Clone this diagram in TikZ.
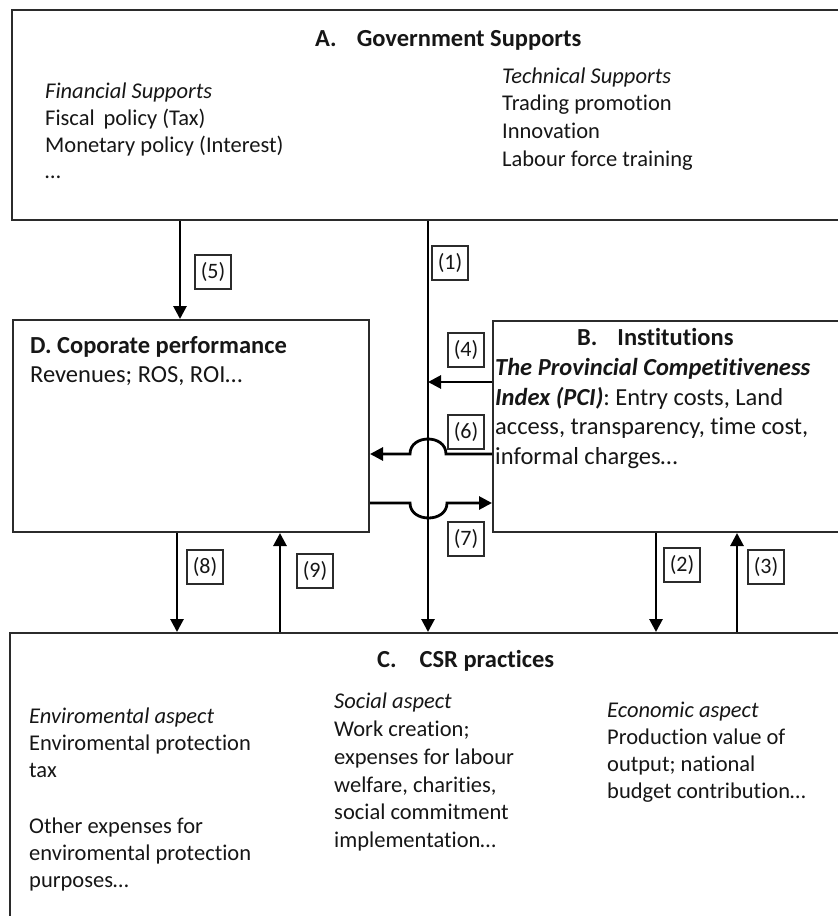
\documentclass[tikz,border=0pt]{standalone}
\usepackage{fontspec}
\setmainfont{Carlito}[Ligatures={NoCommon,NoRequired,NoContextual}]
\usetikzlibrary{arrows.meta,calc}
\definecolor{ink}{HTML}{161616}
\definecolor{frame}{HTML}{2B2B2B}
\begin{document}
\begin{tikzpicture}[x=1pt,y=-1pt,
  panel/.style={draw=frame,line width=2pt,anchor=north west,inner sep=0pt},
  txt/.style={anchor=base west,inner sep=0pt,text=ink},
  ttl/.style={txt,font=\fontsize{24.5}{30}\selectfont\bfseries},
  bodyS/.style={txt,font=\fontsize{22.5}{27}\selectfont},
  italS/.style={txt,font=\fontsize{22.5}{27}\selectfont\itshape},
  bodyL/.style={txt,font=\fontsize{24.5}{30}\selectfont},
  tag/.style={draw=frame,line width=1.3pt,minimum width=36pt,minimum height=34pt,inner sep=0pt,font=\fontsize{22}{24}\selectfont,text=ink},
  flow/.style={draw=black,line width=2.8pt,-{Triangle[width=13pt,length=13pt]}},
]
\useasboundingbox (0,0) rectangle (838,916);
\clip (0,0) rectangle (838,916);

% ---- panels
\node[panel,minimum width=840pt,minimum height=210pt] (A) at (11,9) {};
\node[panel,minimum width=356pt,minimum height=212pt] (D) at (12,319) {};
\node[panel,minimum width=360pt,minimum height=211pt] (B) at (492,320) {};
\node[panel,minimum width=840pt,minimum height=300pt] (C) at (9,632) {};

% ---- A. Government Supports
\node[ttl] (Ah) at (315,46) {A.\hspace{20pt}Government Supports};
\node[italS] (Af) at (45,98) {Financial Supports};
\node[bodyS] (Af1) at (45,125) {Fiscal\, policy (Tax)};
\node[bodyS] (Af2) at (45,152) {Monetary policy (Interest)};
\node[bodyS] (Af3) at (45,178) {…};
\node[italS] (At) at (502,83) {Technical Supports};
\node[bodyS] (At1) at (502,110) {Trading promotion};
\node[bodyS] (At2) at (502,138) {Innovation};
\node[bodyS] (At3) at (502,166) {Labour force training};

% ---- D. Corporate performance
\node[ttl] (Dh) at (30,353) {D. Coporate performance};
\node[bodyL] (D1) at (30,382) {Revenues; ROS, ROI…};

% ---- B. Institutions
\node[ttl] (Bh) at (577,345) {B.\hspace{20pt}Institutions};
\node[bodyL] (B1) at (495,375) {\bfseries\itshape The Provincial Competitiveness};
\node[bodyL] (B2) at (495,405) {{\bfseries\itshape Index (PCI)}: Entry costs, Land};
\node[bodyL] (B3) at (495,434) {access, transparency, time cost,};
\node[bodyL] (B4) at (495,464) {informal charges…};

% ---- C. CSR practices
\node[ttl] (Ch) at (377,667) {C.\hspace{23pt}CSR practices};
\node[italS] (Ce) at (29,723) {Enviromental aspect};
\node[bodyS] (Ce1) at (29,750) {Enviromental protection};
\node[bodyS] (Ce2) at (29,777) {tax};
\node[bodyS] (Ce3) at (29,833) {Other expenses for};
\node[bodyS] (Ce4) at (29,860) {enviromental protection};
\node[bodyS] (Ce5) at (29,887) {purposes…};
\node[italS] (Cs) at (334,708) {Social aspect};
\node[bodyS] (Cs1) at (334,736) {Work creation;};
\node[bodyS] (Cs2) at (334,764) {expenses for labour};
\node[bodyS] (Cs3) at (334,792) {welfare, charities,};
\node[bodyS] (Cs4) at (334,819) {social commitment};
\node[bodyS] (Cs5) at (334,847) {implementation…};
\node[italS] (Cc) at (607,717) {Economic aspect};
\node[bodyS] (Cc1) at (607,744) {Production value of};
\node[bodyS] (Cc2) at (607,771) {output; national};
\node[bodyS] (Cc3) at (607,798) {budget contribution…};

% ---- connector positions
\coordinate (x5) at (180,0);
\coordinate (x1) at (428,0);
\coordinate (x8) at (177,0);
\coordinate (x9) at (280,0);
\coordinate (x2) at (656,0);
\coordinate (x3) at (737,0);
\coordinate (y4) at (0,382);
\coordinate (y6) at (0,454);
\coordinate (y7) at (0,503);

% ---- connectors
\draw[flow] (A.south -| x5) -- (D.north -| x5);
\draw[flow] (A.south -| x1) -- (C.north -| x1);
\draw[flow] (B.west |- y4) -- (x1 |- y4);
\draw[flow] (B.west |- y6) -- (446,454) .. controls (446,434) and (410,434) .. (410,454) -- (D.east |- y6);
\draw[flow] (D.east |- y7) -- (410,503) .. controls (410,523) and (447,523) .. (447,503) -- (B.west |- y7);
\draw[flow] (D.south -| x8) -- (C.north -| x8);
\draw[flow] (C.north -| x9) -- (D.south -| x9);
\draw[flow] (B.south -| x2) -- (C.north -| x2);
\draw[flow] (C.north -| x3) -- (B.south -| x3);

% ---- connector tags
\node[tag] (t5) at (213,272) {(5)};
\node[tag] (t1) at (450,263) {(1)};
\node[tag] (t4) at (466,350) {(4)};
\node[tag] (t6) at (466,432) {(6)};
\node[tag] (t7) at (466,539) {(7)};
\node[tag] (t8) at (205,567) {(8)};
\node[tag] (t9) at (315,571) {(9)};
\node[tag] (t2) at (682,565) {(2)};
\node[tag] (t3) at (766,567) {(3)};
\end{tikzpicture}
\end{document}
